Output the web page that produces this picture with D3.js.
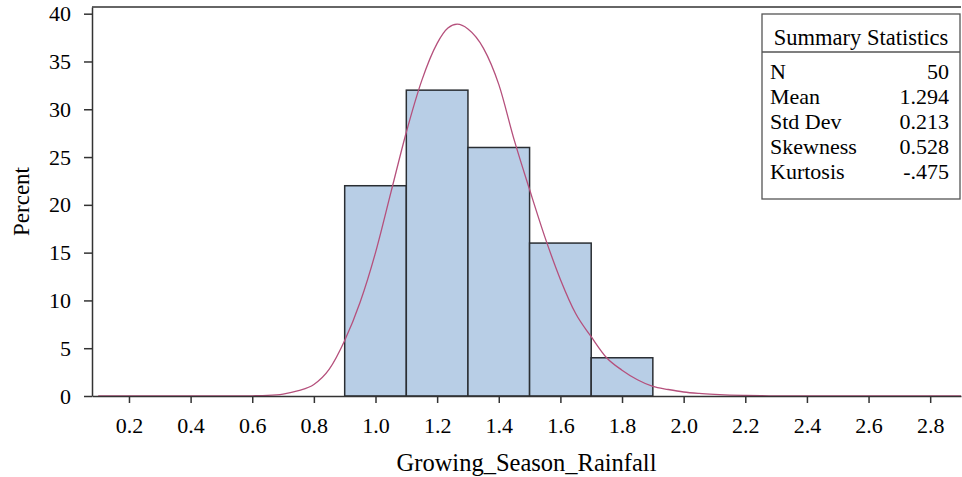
<!DOCTYPE html>
<html>
<head>
<meta charset="utf-8">
<script src="https://cdn.jsdelivr.net/npm/d3@7"></script>
<style>
  body { margin: 0; background: #fff; }
  text { font-family: "Liberation Serif", "Times New Roman", serif; fill: #000; }
</style>
</head>
<body>
<div id="chart"></div>
<script>
// histogram bins (lower edge, upper edge, percent)
const binStart = [0.9, 1.1, 1.3, 1.5, 1.7];
const binEnd = [1.1, 1.3, 1.5, 1.7, 1.9];
const binPercent = [22, 32, 26, 16, 4];

// fitted density curve
const curveX = [0.1, 0.15, 0.2, 0.25, 0.3, 0.35, 0.4, 0.45, 0.5, 0.55, 0.6, 0.65, 0.7, 0.75, 0.8, 0.85,
  0.9, 0.95, 1.0, 1.05, 1.1, 1.15, 1.2, 1.235, 1.265, 1.3, 1.35, 1.4, 1.45, 1.5, 1.55, 1.6, 1.65, 1.7, 1.75,
  1.8, 1.85, 1.9, 1.95, 2.0, 2.05, 2.1, 2.15, 2.2, 2.25, 2.3, 2.4, 2.5, 2.6, 2.7, 2.8, 2.9];
const curveY = [0, 0, 0, 0, 0, 0, 0, 0, 0, 0, 0.02, 0.06, 0.2, 0.55, 1.2, 2.8,
  5.8, 9.8, 15.0, 21.3, 27.6, 33.0, 36.9, 38.5, 38.9, 38.4, 36.4, 32.6, 26.8, 21.6, 16.6, 12.2, 8.6, 6.2, 4.0,
  2.7, 1.7, 1.0, 0.68, 0.42, 0.27, 0.17, 0.1, 0.06, 0.03, 0.02, 0.01, 0, 0, 0, 0, 0];

const xTicks = [0.2, 0.4, 0.6, 0.8, 1.0, 1.2, 1.4, 1.6, 1.8, 2.0, 2.2, 2.4, 2.6, 2.8];
const yTicks = [0, 5, 10, 15, 20, 25, 30, 35, 40];

const statNames = ["N", "Mean", "Std Dev", "Skewness", "Kurtosis"];
const statValues = ["50", "1.294", "0.213", "0.528", "-.475"];

const width = 962;
const height = 477;
const margin = { top: 7, right: 1, bottom: 81, left: 92 };

const svg = d3.select("#chart")
  .append("svg")
  .attr("width", width)
  .attr("height", height);

const x = d3.scaleLinear()
  .domain([0.08, 2.9])
  .range([margin.left, width - margin.right]);

const y = d3.scaleLinear()
  .domain([0, 40.7])
  .range([height - margin.bottom, margin.top]);

// bars
svg.selectAll(".bar")
  .data(binPercent)
  .enter()
  .append("rect")
  .attr("class", "bar")
  .attr("x", (d, i) => x(binStart[i]))
  .attr("width", (d, i) => x(binEnd[i]) - x(binStart[i]))
  .attr("y", d => y(d))
  .attr("height", d => y(0) - y(d))
  .style("fill", "#b8cee6")
  .style("stroke", "#2a2e33")
  .style("stroke-width", 1.5);

// density curve
const line = d3.line()
  .x((d, i) => x(curveX[i]))
  .y(d => y(d))
  .curve(d3.curveMonotoneX);

svg.append("path")
  .datum(curveY)
  .attr("d", line)
  .style("fill", "none")
  .style("stroke", "#b5507c")
  .style("stroke-width", 1.3);

// axes
const xAxis = svg.append("g")
  .attr("transform", `translate(0, ${y(0)})`)
  .call(d3.axisBottom(x).tickValues(xTicks).tickFormat(d3.format(".1f")).tickSizeInner(7).tickSizeOuter(0).tickPadding(14));

const yAxis = svg.append("g")
  .attr("transform", `translate(${margin.left}, 0)`)
  .call(d3.axisLeft(y).tickValues(yTicks).tickSizeInner(8).tickSizeOuter(0).tickPadding(13));

[xAxis, yAxis].forEach(g => {
  g.selectAll("path, line").style("stroke", "#333").style("stroke-width", 1.5);
  g.selectAll("text").style("font-family", '"Liberation Serif", serif').style("font-size", "22px").style("fill", "#000");
});

// top border
svg.append("line")
  .attr("x1", margin.left).attr("x2", width - margin.right)
  .attr("y1", margin.top).attr("y2", margin.top)
  .style("stroke", "#333").style("stroke-width", 1.5);

// axis titles
svg.append("text")
  .attr("x", (margin.left + width - margin.right) / 2)
  .attr("y", 471)
  .attr("text-anchor", "middle")
  .style("font-size", "24.5px")
  .text("Growing_Season_Rainfall");

svg.append("text")
  .attr("transform", `translate(29, ${(y(0) + margin.top) / 2}) rotate(-90)`)
  .attr("text-anchor", "middle")
  .style("font-size", "23px")
  .text("Percent");

// summary statistics box
const box = svg.append("g").attr("transform", "translate(762, 14)");

box.append("rect")
  .attr("width", 198)
  .attr("height", 185)
  .style("fill", "#fff")
  .style("stroke", "#555")
  .style("stroke-width", 1.3);

box.append("line")
  .attr("x1", 0).attr("x2", 198)
  .attr("y1", 38).attr("y2", 38)
  .style("stroke", "#555").style("stroke-width", 1.3);

box.append("text")
  .attr("x", 99)
  .attr("y", 31)
  .attr("text-anchor", "middle")
  .style("font-size", "22.5px")
  .text("Summary Statistics");

statNames.forEach((name, i) => {
  box.append("text")
    .attr("x", 8)
    .attr("y", 65 + i * 25)
    .style("font-size", "22px")
    .text(name);
  box.append("text")
    .attr("x", 187)
    .attr("y", 65 + i * 25)
    .attr("text-anchor", "end")
    .style("font-size", "22px")
    .text(statValues[i]);
});
</script>
</body>
</html>
